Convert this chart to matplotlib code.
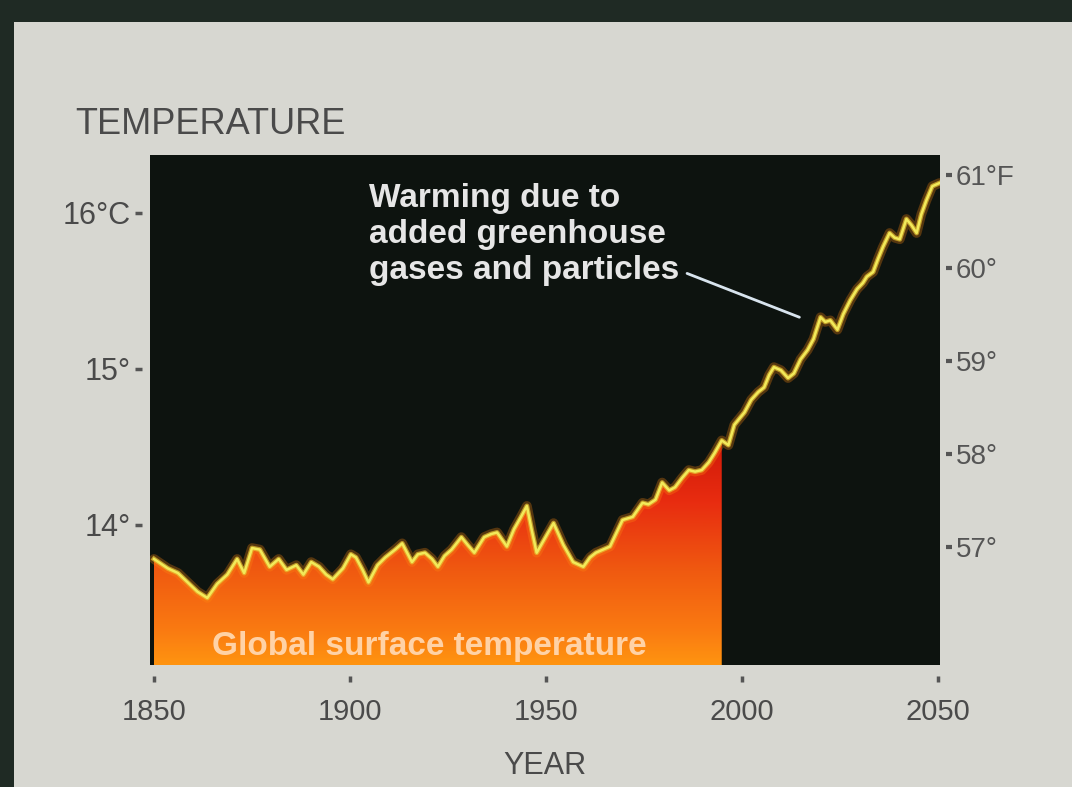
import matplotlib
matplotlib.use('Agg')
import matplotlib.pyplot as plt
import numpy as np
from matplotlib.colors import LinearSegmentedColormap
from matplotlib.patches import Rectangle

# global surface temperature (deg C)
years = [1850.0, 1853.5, 1856.1, 1858.6, 1861.1, 1863.6, 1866.1, 1868.7, 1871.2, 1873.0,
         1875.0, 1877.0, 1879.5, 1881.8, 1883.8, 1886.3, 1888.1, 1890.1, 1892.1, 1893.9,
         1895.6, 1898.2, 1900.2, 1901.5, 1903.2, 1904.7, 1907.0, 1909.0, 1911.5, 1913.3,
         1915.8, 1917.3, 1919.1, 1920.9, 1922.4, 1924.1, 1925.9, 1928.4, 1930.0, 1931.7,
         1934.2, 1936.0, 1937.5, 1940.0, 1941.8, 1943.6, 1945.1, 1946.3, 1947.6, 1949.4,
         1951.9, 1954.4, 1956.9, 1959.5, 1961.2, 1962.7, 1964.5, 1966.3, 1967.8, 1969.5,
         1972.1, 1974.6, 1976.1, 1977.9, 1979.6, 1981.4, 1982.9, 1984.7, 1986.4, 1988.0,
         1989.7, 1991.5, 1993.0, 1994.8, 1996.5, 1998.0, 2000.6, 2002.3, 2004.1, 2005.6,
         2006.9, 2008.1, 2009.9, 2011.7, 2013.2, 2014.9, 2016.7, 2018.2, 2020.0, 2021.2,
         2022.5, 2024.3, 2025.8, 2027.6, 2029.3, 2030.8, 2031.8, 2033.4, 2034.6, 2035.9,
         2037.6, 2038.9, 2040.2, 2041.9, 2043.2, 2044.5, 2045.7, 2047.0, 2048.5, 2050.3]
temps = [13.78, 13.72, 13.69, 13.63, 13.57, 13.53, 13.62, 13.68, 13.78, 13.69,
         13.85, 13.84, 13.73, 13.78, 13.71, 13.74, 13.68, 13.76, 13.73, 13.68,
         13.65, 13.72, 13.81, 13.79, 13.71, 13.63, 13.74, 13.79, 13.84, 13.88,
         13.76, 13.81, 13.82, 13.78, 13.73, 13.80, 13.84, 13.92, 13.87, 13.82,
         13.92, 13.94, 13.95, 13.86, 13.97, 14.05, 14.12, 13.97, 13.82, 13.90,
         14.01, 13.87, 13.76, 13.73, 13.79, 13.82, 13.84, 13.86, 13.94, 14.03,
         14.05, 14.14, 14.13, 14.16, 14.27, 14.22, 14.24, 14.30, 14.35, 14.34,
         14.35, 14.40, 14.46, 14.54, 14.51, 14.64, 14.72, 14.80, 14.85, 14.88,
         14.96, 15.01, 14.99, 14.94, 14.97, 15.06, 15.12, 15.19, 15.33, 15.30,
         15.31, 15.25, 15.35, 15.44, 15.51, 15.55, 15.59, 15.62, 15.70, 15.78,
         15.87, 15.84, 15.83, 15.96, 15.92, 15.87, 15.99, 16.08, 16.17, 16.19]
observed_until = 1994.8

year_ticks = [1850, 1900, 1950, 2000, 2050]
c_ticks = [14, 15, 16]
c_labels = ['14°', '15°', '16°C']
f_ticks = [57, 58, 59, 60, 61]
f_labels = ['57°', '58°', '59°', '60°', '61°F']

plt.rcParams['font.family'] = ['Liberation Sans', 'DejaVu Sans']

years = np.array(years)
temps = np.array(temps)

fig = plt.figure(figsize=(10.72, 7.87), dpi=100)
fig.patch.set_facecolor('#1f2a24')
fig.patches.append(Rectangle((0.013, 0.0), 0.987, 0.972, transform=fig.transFigure,
                             facecolor='#d7d7d1', edgecolor='none', zorder=-10))

ax = fig.add_axes([0.140, 0.155, 0.737, 0.648])
ax.set_facecolor('#0d130f')

# fiery fill under the observed record
obs = years <= observed_until
poly = ax.fill_between(years[obs], 13.0, temps[obs], facecolor='none', edgecolor='none')
fire = LinearSegmentedColormap.from_list(
    'fire', [(0, '#ff9410'), (0.15, '#fa7a12'), (0.4, '#f05a10'), (0.7, '#e82c10'), (1, '#cc1608')])
grad = np.linspace(0, 1, 256).reshape(-1, 1)
im = ax.imshow(grad, extent=(1849, 2050.5, 13.10, 14.6), origin='lower', cmap=fire,
               aspect='auto', zorder=1)
im.set_clip_path(poly.get_paths()[0], transform=ax.transData)
ax.set_xlim(1849, 2050.5)
ax.set_ylim(13.10, 16.37)

# glowing line
ax.plot(years, temps, color='#ff8a10', lw=7, alpha=0.3, zorder=2, solid_capstyle='round')
ax.plot(years, temps, color='#e8c030', lw=3.5, alpha=0.7, zorder=3)
ax.plot(years, temps, color='#f2ea5a', lw=1.8, zorder=4)

ax.text(1864.8, 13.22, 'Global surface temperature', color='#ffd2a6', fontsize=24,
        fontweight='bold', ha='left', va='center', zorder=5)

ax.annotate('Warming due to\nadded greenhouse\ngases and particles',
            xy=(2014.6, 15.33), xytext=(1904.8, 16.19),
            color='#e6e6e6', fontsize=24, fontweight='bold', ha='left', va='top',
            linespacing=1.2, zorder=6,
            arrowprops=dict(arrowstyle='-', color='#d8e4ee', lw=2,
                            shrinkA=4, shrinkB=0, relpos=(1.0, 0.15)))

for s in ax.spines.values():
    s.set_visible(False)
ax.spines['bottom'].set_position(('outward', 8))
ax.spines['left'].set_position(('outward', 6))

ax.set_xticks(year_ticks)
ax.set_xticklabels([str(y) for y in year_ticks])
ax.tick_params(axis='x', direction='out', length=4, width=2.5, color='#555555',
               pad=12, labelsize=21, labelcolor='#4a4a4a')
ax.set_yticks(c_ticks)
ax.set_yticklabels(c_labels)
ax.tick_params(axis='y', direction='out', length=5, width=2.5, color='#555555',
               pad=3, labelsize=22, labelcolor='#4a4a4a')
ax.set_xlabel('YEAR', fontsize=22, color='#4a4a4a', labelpad=18)

ax2 = ax.twinx()
ax2.set_ylim(55.73, 61.22)
ax2.set_yticks(f_ticks)
ax2.set_yticklabels(f_labels)
ax2.tick_params(axis='y', direction='out', length=4, width=3, color='#555555',
                pad=3, labelsize=20, labelcolor='#555555')
for s in ax2.spines.values():
    s.set_visible(False)
ax2.spines['right'].set_position(('outward', 4))

fig.text(0.070, 0.842, 'TEMPERATURE', fontsize=26, color='#4a4a4a', ha='left', va='center')

fig.savefig('out.png', dpi=100, facecolor=fig.get_facecolor())
